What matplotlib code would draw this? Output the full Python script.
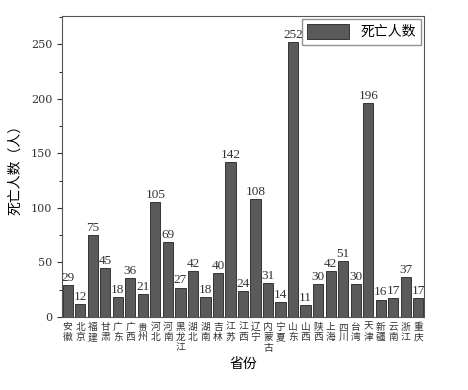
import matplotlib.pyplot as plt
from matplotlib.ticker import MultipleLocator

plt.rcParams['font.family'] = ['DejaVu Serif', 'Noto Sans CJK SC', 'DejaVu Sans']

provinces = ['安徽', '北京', '福建', '甘肃', '广东', '广西', '贵州', '河北', '河南', '黑龙江',
             '湖北', '湖南', '吉林', '江苏', '江西', '辽宁', '内蒙古', '宁夏', '山东', '山西',
             '陕西', '上海', '四川', '台湾', '天津', '新疆', '云南', '浙江', '重庆']
deaths = [29, 12, 75, 45, 18, 36, 21, 105, 69, 27, 42, 18, 40, 142, 24, 108, 31, 14, 252, 11,
          30, 42, 51, 30, 196, 16, 17, 37, 17]

cjk = ['Noto Sans CJK SC', 'DejaVu Sans']

fig = plt.figure(figsize=(4.68, 3.9), dpi=100)
ax = fig.add_axes([62 / 468, 1 - 317 / 390, 362 / 468, 301 / 390])

x = list(range(len(provinces)))
ax.bar(x, deaths, width=0.82, color='#5a5a5a', edgecolor='#222222', linewidth=0.6,
       label='死亡人数')
for xi, v in zip(x, deaths):
    ax.text(xi, v + 1, str(v), ha='center', va='bottom', fontsize=9.5, color='#333333',
            family='Liberation Serif')

ax.set_xlim(-0.45, len(provinces) - 0.55)
ax.set_ylim(0, 276)
ax.yaxis.set_major_locator(MultipleLocator(50))
ax.yaxis.set_minor_locator(MultipleLocator(25))
ax.tick_params(axis='y', direction='out', labelsize=8, colors='#333333')
ax.tick_params(axis='x', length=0)
ax.set_xticks(x)
ax.set_xticklabels(['\n'.join(p) for p in provinces], fontsize=7, linespacing=1.05,
                   color='#333333', family=cjk)
for s in ax.spines.values():
    s.set_color('#555555')

ax.set_xlabel('省份', fontsize=10, family=cjk, labelpad=3)
ax.set_ylabel('死亡人数（人）', fontsize=10, family=cjk, labelpad=6)

leg = ax.legend(loc='upper right', prop={'family': cjk, 'size': 10},
                fancybox=False, borderaxespad=0.2, handlelength=3, handleheight=1.2)
leg.get_frame().set_edgecolor('#777777')

fig.savefig('out.png', dpi=100)
